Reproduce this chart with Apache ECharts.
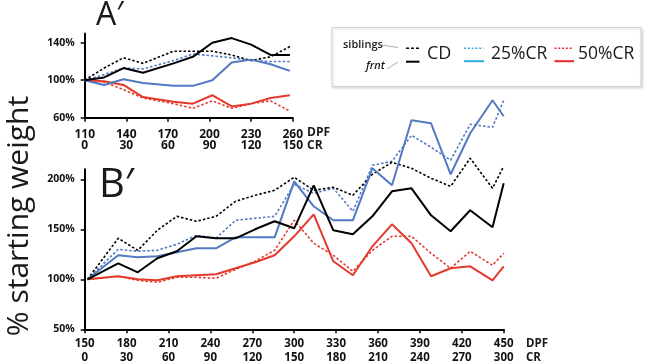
<!DOCTYPE html>
<html><head><meta charset="utf-8">
<script src="https://cdn.jsdelivr.net/npm/echarts@6/dist/echarts.min.js"></script>
<style>html,body{margin:0;padding:0;background:#fff}#c{width:645px;height:363px}</style>
</head><body><div id="c"></div>
<script>
// ---------- Panel A' data (DPF days, % starting weight) ----------
const dpfA = [110,124,138,152,174,188,202,216,230,244,258];
const cdFrntA   = [100,103,113,108,118,125,140,145,138,127,127];
const cdSibA    = [100,113,124,118,131,131,131,127,121,125,136];
const cr25FrntA = [100,95,101,97,94,94,100,119,122,117,110];
const cr25SibA  = [100,106,113,112,121,128,126,124,121,120,120];
const cr50FrntA = [100,99,95,82,77,75,84,72,75,81,84];
const cr50SibA  = [100,98,90,81,75,70,78,70,75,78,67];
const dpfTicksA = [110,140,170,200,230,260];
const crTicksA  = [0,30,60,90,120,150];
const yTicksA   = [60,100,140];

// ---------- Panel B' data ----------
const dpfB = [152,174,188,202,216,230,244,258,272,286,300,314,328,342,356,370,384,398,412,426,442,450];
const cdFrntB   = [100,116,107,121,128,143,141,141,150,158,151,194,149,145,163,188,191,164,148,169,152,196];
const cdSibB    = [100,141,129,149,163,158,163,178,184,189,202,189,192,184,205,217,211,201,193,221,191,213];
const cr25FrntB = [100,124,122,123,127,131,131,142,142,142,198,173,159,159,211,194,259,256,205,246,279,263];
const cr25SibB  = [100,130,128,129,135,144,141,159,161,163,195,186,191,168,214,218,244,232,219,255,252,279];
const cr50FrntB = [100,103,100,99,103,104,105,111,117,124,143,165,118,104,133,155,136,103,111,113,99,113];
const cr50SibB  = [100,103,99,97,102,102,101,110,118,129,159,136,124,108,129,143,143,126,111,128,114,126];
const dpfTicksB = [150,180,210,240,270,300,330,360,390,420,450];
const crTicksB  = [0,30,60,90,120,150,180,210,240,270,300];
const yTicksB   = [50,100,150,200];

const BLACK = '#000000', BLUE = '#5279c2', RED = '#e33a2d';
const LEG_BLUE = '#2fa9dc', LEG_RED = '#e8262d';
const offA = dpfTicksA[0], offB = dpfTicksB[0];

function pts(days, vals, off) { return days.map((d, i) => [d - off, vals[i]]); }
function ser(data, color, dotted, gi) {
  return {
    type: 'line', xAxisIndex: gi, yAxisIndex: gi, data: data,
    showSymbol: false, symbol: 'none', clip: false, silent: true, animation: false,
    z: dotted ? 2 : 3,
    lineStyle: { color: color, width: dotted ? 1.6 : 2, type: dotted ? [2.5, 2] : 'solid' },
    itemStyle: { color: color }
  };
}
const lblFont = { fontFamily: '"Open Sans", sans-serif', fontWeight: 'bold', color: '#111' };

function xAxis(gi, max, crTicks, dpfTicks, fs, lh, margin) {
  return {
    gridIndex: gi, type: 'value', min: 0, max: max, interval: 30,
    axisLine: { show: true, onZero: false, lineStyle: { color: '#000', width: 2 } },
    axisTick: { show: true, length: 4, customValues: crTicks, lineStyle: { color: '#000', width: 1.5 } },
    splitLine: { show: false },
    axisLabel: Object.assign({
      customValues: crTicks, fontSize: fs, lineHeight: lh, margin: margin,
      formatter: v => { const i = crTicks.indexOf(v); return dpfTicks[i] + '\n' + v; }
    }, lblFont)
  };
}
function yAxis(gi, min, max, ticks) {
  return {
    gridIndex: gi, type: 'value', min: min, max: max,
    axisLine: { show: true, onZero: false, lineStyle: { color: '#000', width: 2 } },
    axisTick: { show: true, length: 4, customValues: ticks, lineStyle: { color: '#000', width: 1.5 } },
    splitLine: { show: false },
    axisLabel: Object.assign({ customValues: ticks, fontSize: 10.5, margin: 10, formatter: v => v + '%' }, lblFont)
  };
}

const txt = (x, y, text, font, extra) => ({
  type: 'text', x: x, y: y, silent: true,
  style: Object.assign({ text: text, font: font, fill: '#1a1a1a', verticalAlign: 'middle', align: 'left' }, extra || {})
});
const seg = (x1, y1, x2, y2, color, width, dash) => ({
  type: 'line', silent: true,
  shape: { x1: x1, y1: y1, x2: x2, y2: y2 },
  style: { stroke: color, lineWidth: width, lineDash: dash || null }
});

const option = {
  animation: false,
  backgroundColor: '#ffffff',
  grid: [
    { left: 84.7, top: 33.4, width: 208, height: 84.3, containLabel: false, outerBoundsMode: 'none' },
    { left: 84.7, top: 169.3, width: 419, height: 160, containLabel: false, outerBoundsMode: 'none' }
  ],
  xAxis: [
    xAxis(0, 150, crTicksA, dpfTicksA, 12, 11, 11),
    xAxis(1, 300, crTicksB, dpfTicksB, 11.5, 13.5, 8)
  ],
  yAxis: [
    yAxis(0, 60, 150, yTicksA),
    yAxis(1, 50, 210, yTicksB)
  ],
  series: [
    ser(pts(dpfA, cr50SibA, offA), RED, true, 0),
    ser(pts(dpfA, cr25SibA, offA), BLUE, true, 0),
    ser(pts(dpfA, cdSibA, offA), BLACK, true, 0),
    ser(pts(dpfA, cr50FrntA, offA), RED, false, 0),
    ser(pts(dpfA, cr25FrntA, offA), BLUE, false, 0),
    ser(pts(dpfA, cdFrntA, offA), BLACK, false, 0),
    ser(pts(dpfB, cr50SibB, offB), RED, true, 1),
    ser(pts(dpfB, cr25SibB, offB), BLUE, true, 1),
    ser(pts(dpfB, cdSibB, offB), BLACK, true, 1),
    ser(pts(dpfB, cr50FrntB, offB), RED, false, 1),
    ser(pts(dpfB, cr25FrntB, offB), BLUE, false, 1),
    ser(pts(dpfB, cdFrntB, offB), BLACK, false, 1)
  ],
  graphic: [
    txt(96, 15.5, 'A\u2032', '32px "Open Sans", sans-serif'),
    txt(99, 185.5, 'B\u2032', '40px "Open Sans", sans-serif'),
    {
      type: 'text', x: 19, y: 216, rotation: Math.PI / 2, silent: true,
      style: { text: '% starting weight', font: '30px "Open Sans", sans-serif', fill: '#1a1a1a', align: 'center', verticalAlign: 'middle' }
    },
    txt(307, 133, 'DPF', 'bold 12px "Open Sans", sans-serif'),
    txt(307, 145.5, 'CR', 'bold 12px "Open Sans", sans-serif'),
    txt(526, 344, 'DPF', 'bold 11.5px "Open Sans", sans-serif'),
    txt(526, 357.5, 'CR', 'bold 11.5px "Open Sans", sans-serif'),
    // legend box
    {
      type: 'rect', silent: true, shape: { x: 332, y: 27.5, width: 309, height: 59 },
      style: { fill: '#ffffff', stroke: '#d4d4d4', lineWidth: 1, shadowBlur: 3, shadowColor: 'rgba(0,0,0,0.18)', shadowOffsetX: 1, shadowOffsetY: 1 }
    },
    txt(343, 45, 'siblings', '600 11px "Open Sans", sans-serif'),
    txt(366, 66, 'frnt', 'italic 600 11px "Open Sans", sans-serif'),
    seg(382, 45, 398, 47.5, '#9a9a9a', 0.8),
    seg(387, 69, 398, 62, '#9a9a9a', 0.8),
    seg(406, 48.3, 419, 48.3, BLACK, 1.6, [3, 2]),
    seg(406, 61.7, 419.5, 61.7, BLACK, 2),
    txt(427, 54, 'CD', '18px "Open Sans", sans-serif'),
    seg(464, 48.3, 483.5, 48.3, LEG_BLUE, 1.6, [2, 1.8]),
    seg(464, 61.2, 484, 61.2, LEG_BLUE, 2),
    txt(491, 54, '25%CR', '17.5px "Open Sans", sans-serif'),
    seg(554.5, 48.3, 573.5, 48.3, LEG_RED, 1.6, [2, 1.8]),
    seg(554.5, 61.2, 574, 61.2, LEG_RED, 2),
    txt(578, 54, '50%CR', '17.5px "Open Sans", sans-serif')
  ]
};

const chart = echarts.init(document.getElementById('c'), null, { renderer: 'canvas' });
chart.setOption(option);
</script>
</body></html>
